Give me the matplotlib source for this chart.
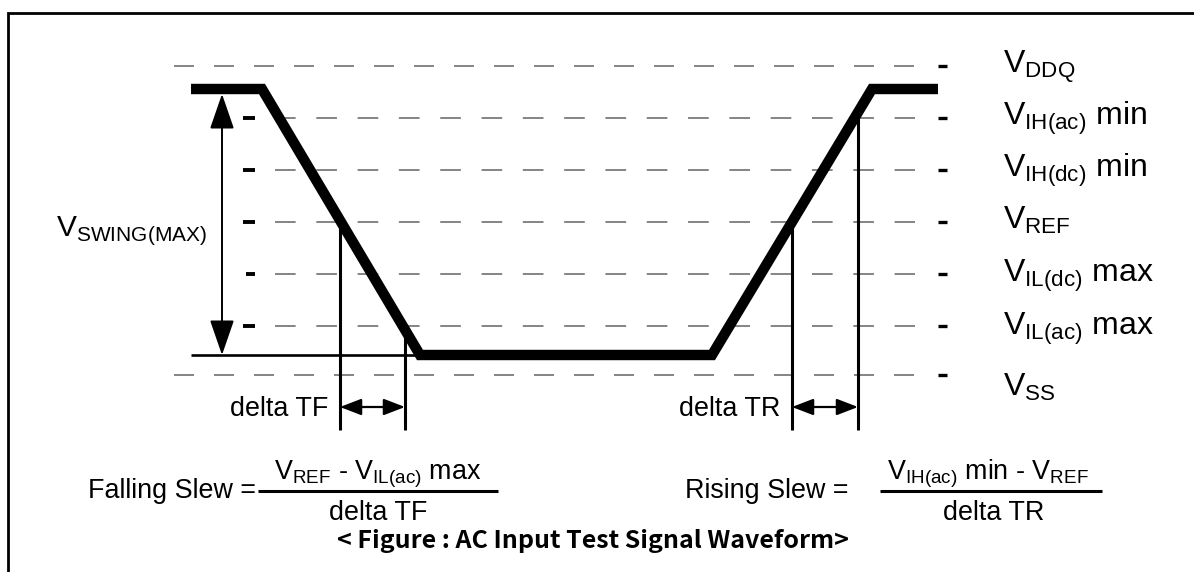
import matplotlib
matplotlib.use("Agg")
import matplotlib.pyplot as plt

plt.rcParams['font.family'] = ['Liberation Sans', 'DejaVu Sans']
plt.rcParams['mathtext.fontset'] = 'custom'
plt.rcParams['mathtext.rm'] = 'Liberation Sans'
plt.rcParams['lines.scale_dashes'] = False

# voltage levels (pixel rows of the diagram, top = VDDQ)
level_names = [r'V$_{\mathrm{DDQ}}$', r'V$_{\mathrm{IH(ac)}}$ min', r'V$_{\mathrm{IH(dc)}}$ min',
               r'V$_{\mathrm{REF}}$', r'V$_{\mathrm{IL(dc)}}$ max', r'V$_{\mathrm{IL(ac)}}$ max',
               r'V$_{\mathrm{SS}}$']
level_y = [66, 118, 170, 222, 274, 326, 375]
label_base = [74, 125, 177, 229, 282, 335, 396]

# waveform corners
wave_x = [191, 262, 420, 712, 872, 938]
wave_y = [89, 89, 355, 355, 89, 89]

# timing markers: x, top y
fall_marks = [(340, 222), (405, 326)]
rise_marks = [(792, 222), (858, 118)]

FS = 19.4
FS_V = 23

fig = plt.figure(figsize=(11.94, 5.72), dpi=100)
ax = fig.add_axes([0, 0, 1, 1])
ax.set_xlim(0, 1194)
ax.set_ylim(572, 0)
ax.axis('off')

# frame
ax.plot([8, 8, 1194], [572, 13, 13], color='black', lw=2.0, solid_joinstyle='miter')

# dashed level lines
for i, y in enumerate(level_y):
    if i in (0, 6):
        ax.plot([174, 914], [y, y], color='#707070', lw=1.2, linestyle=(0, (14.4, 14.4)))
    else:
        ax.plot([275, 915], [y, y], color='#707070', lw=1.2, linestyle=(0, (14.87, 14.87)))
        ax.plot([243 if i != 4 else 246, 255], [y, y], color='black', lw=2.8, solid_capstyle='butt')
    ax.plot([938, 947], [y, y], color='black', lw=2.4, solid_capstyle='butt')
    ax.text(1003, label_base[i], level_names[i], fontsize=FS_V, ha='left', va='baseline')

# baseline under swing
ax.plot([191, 420], [355, 355], color='black', lw=1.9, solid_capstyle='butt')

# timing verticals
for x, y in fall_marks + rise_marks:
    ax.plot([x, x], [y, 430], color='black', lw=2.2, solid_capstyle='butt')

# waveform
ax.plot(wave_x, wave_y, color='black', lw=7.5, solid_joinstyle='miter', solid_capstyle='butt')

# swing arrow
ax.annotate('', xy=(222, 94), xytext=(222, 355),
            arrowprops=dict(arrowstyle='<|-|>,head_length=22,head_width=7.6', mutation_scale=1,
                            color='black', lw=1.4, shrinkA=0, shrinkB=0))
ax.text(207, 236, r'V$_{\mathrm{SWING(MAX)}}$', fontsize=21.5, ha='right', va='baseline')

# delta arrows
for (xa, _), (xb, _) in (fall_marks, rise_marks):
    ax.annotate('', xy=(xa, 407), xytext=(xb, 407),
                arrowprops=dict(arrowstyle='<|-|>,head_length=13,head_width=5', mutation_scale=1,
                                color='black', lw=1.6, shrinkA=0, shrinkB=0))
ax.text(328, 416, 'delta TF', fontsize=FS, ha='right', va='baseline')
ax.text(780, 416, 'delta TR', fontsize=FS, ha='right', va='baseline')

# slew formulas
ax.text(88, 498, 'Falling Slew =', fontsize=FS, ha='left', va='baseline')
ax.plot([258, 498], [491, 491], color='black', lw=2.2, solid_capstyle='butt')
ax.text(378, 480, r'V$_{\mathrm{REF}}$ - V$_{\mathrm{IL(ac)}}$ max', fontsize=FS, ha='center', va='baseline')
ax.text(378, 520, 'delta TF', fontsize=FS, ha='center', va='baseline')

ax.text(685, 498, 'Rising Slew =', fontsize=FS, ha='left', va='baseline')
ax.plot([880, 1102], [491, 491], color='black', lw=2.2, solid_capstyle='butt')
ax.text(988, 480, r'V$_{\mathrm{IH(ac)}}$ min - V$_{\mathrm{REF}}$', fontsize=FS, ha='center', va='baseline')
ax.text(994, 520, 'delta TR', fontsize=FS, ha='center', va='baseline')

ax.text(593, 548, '< Figure : AC Input Test Signal Waveform>', fontsize=18, fontweight='bold',
        family=['Noto Sans CJK KR', 'DejaVu Sans'], ha='center', va='baseline')

fig.savefig('out.png', dpi=100)
